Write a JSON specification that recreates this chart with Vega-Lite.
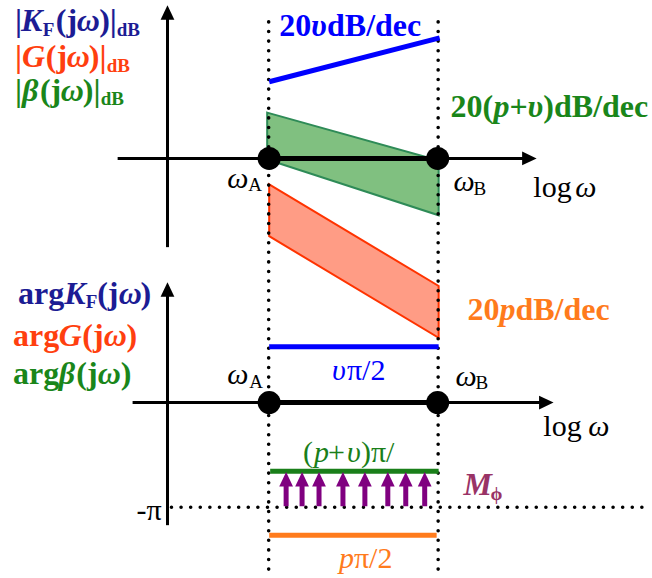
{
  "$schema": "https://vega.github.io/schema/vega-lite/v6.json",
  "width": 652,
  "height": 578,
  "padding": 0,
  "autosize": {"type": "fit", "contains": "padding"},
  "background": "white",
  "config": {"view": {"stroke": null}},
  "datasets": {
    "bands": [
      {"x": 268, "y": 113, "y2": 160, "band": "beta"},
      {"x": 440, "y": 161, "y2": 216, "band": "beta"},
      {"x": 270, "y": 185, "y2": 237, "band": "g"},
      {"x": 440, "y": 287, "y2": 339, "band": "g"}
    ],
    "dotted": [
      {"x": 269.5, "y": 22, "x2": 269.5, "y2": 578},
      {"x": 439.5, "y": 22, "x2": 439.5, "y2": 578},
      {"x": 172, "y": 509, "x2": 652, "y2": 509}
    ],
    "axes": [
      {"x": 168, "y": 248, "x2": 168, "y2": 18},
      {"x": 118, "y": 159, "x2": 526, "y2": 159},
      {"x": 168, "y": 527, "x2": 168, "y2": 296},
      {"x": 133, "y": 404, "x2": 542, "y2": 404}
    ],
    "segments": [
      {"x": 270, "y": 159, "x2": 439, "y2": 159, "c": "black"},
      {"x": 270, "y": 404, "x2": 439, "y2": 404, "c": "black"},
      {"x": 270, "y": 82, "x2": 441, "y2": 38, "c": "blue"},
      {"x": 270, "y": 348, "x2": 440, "y2": 348, "c": "blue"},
      {"x": 271, "y": 473, "x2": 440, "y2": 473, "c": "green"},
      {"x": 270, "y": 537, "x2": 438, "y2": 537, "c": "orange"},
      {"x": 287, "y": 508, "x2": 287, "y2": 486, "c": "purple"},
      {"x": 303, "y": 508, "x2": 303, "y2": 486, "c": "purple"},
      {"x": 320, "y": 508, "x2": 320, "y2": 486, "c": "purple"},
      {"x": 344, "y": 508, "x2": 344, "y2": 486, "c": "purple"},
      {"x": 366, "y": 508, "x2": 366, "y2": 486, "c": "purple"},
      {"x": 389, "y": 508, "x2": 389, "y2": 486, "c": "purple"},
      {"x": 407, "y": 508, "x2": 407, "y2": 486, "c": "purple"},
      {"x": 426, "y": 508, "x2": 426, "y2": 486, "c": "purple"}
    ],
    "heads": [
      {"x": 168, "y": 12.5, "dir": "up", "c": "black"},
      {"x": 168, "y": 290.5, "dir": "up", "c": "black"},
      {"x": 531, "y": 159, "dir": "right", "c": "black"},
      {"x": 548, "y": 404, "dir": "right", "c": "black"},
      {"x": 287, "y": 481, "dir": "up", "c": "purple"},
      {"x": 303, "y": 481, "dir": "up", "c": "purple"},
      {"x": 320, "y": 481, "dir": "up", "c": "purple"},
      {"x": 344, "y": 481, "dir": "up", "c": "purple"},
      {"x": 366, "y": 481, "dir": "up", "c": "purple"},
      {"x": 389, "y": 481, "dir": "up", "c": "purple"},
      {"x": 407, "y": 481, "dir": "up", "c": "purple"},
      {"x": 426, "y": 481, "dir": "up", "c": "purple"}
    ],
    "nodes": [
      {"x": 270, "y": 159, "name": "ωA"},
      {"x": 439, "y": 159, "name": "ωB"},
      {"x": 270, "y": 404, "name": "ωA"},
      {"x": 439, "y": 404, "name": "ωB"}
    ],
    "bold": [
      {"x": 15, "y": 31, "t": "|", "c": "kf"},
      {"x": 56, "y": 31, "t": "(j", "c": "kf"},
      {"x": 99.5, "y": 31, "t": ")|", "c": "kf"},
      {"x": 15, "y": 67, "t": "|", "c": "g"},
      {"x": 46, "y": 67, "t": "(j", "c": "g"},
      {"x": 89, "y": 67, "t": ")|", "c": "g"},
      {"x": 15, "y": 101, "t": "|", "c": "beta"},
      {"x": 40, "y": 101, "t": "(j", "c": "beta"},
      {"x": 83, "y": 101, "t": ")|", "c": "beta"},
      {"x": 18, "y": 305, "t": "arg", "c": "kf"},
      {"x": 97.5, "y": 305, "t": "(j", "c": "kf"},
      {"x": 141, "y": 305, "t": ")", "c": "kf"},
      {"x": 13, "y": 347, "t": "arg", "c": "g"},
      {"x": 82.5, "y": 347, "t": "(j", "c": "g"},
      {"x": 127, "y": 347, "t": ")", "c": "g"},
      {"x": 13, "y": 385, "t": "arg", "c": "beta"},
      {"x": 76.5, "y": 385, "t": "(j", "c": "beta"},
      {"x": 121, "y": 385, "t": ")", "c": "beta"},
      {"x": 280, "y": 36, "t": "20", "c": "blue"},
      {"x": 328, "y": 36, "t": "dB/dec", "c": "blue"},
      {"x": 452, "y": 117, "t": "20(", "c": "beta"},
      {"x": 511, "y": 117, "t": "+", "c": "beta"},
      {"x": 545, "y": 117, "t": ")dB/dec", "c": "beta"},
      {"x": 469, "y": 321, "t": "20", "c": "orange"},
      {"x": 517, "y": 321, "t": "dB/dec", "c": "orange"}
    ],
    "boldItalic": [
      {"x": 21, "y": 31, "t": "K", "c": "kf"},
      {"x": 77, "y": 31, "t": "ω", "c": "kf"},
      {"x": 22, "y": 67, "t": "G", "c": "g"},
      {"x": 67, "y": 67, "t": "ω", "c": "g"},
      {"x": 22, "y": 101, "t": "β", "c": "beta"},
      {"x": 61, "y": 101, "t": "ω", "c": "beta"},
      {"x": 64.5, "y": 305, "t": "K", "c": "kf"},
      {"x": 119, "y": 305, "t": "ω", "c": "kf"},
      {"x": 59, "y": 347, "t": "G", "c": "g"},
      {"x": 104, "y": 347, "t": "ω", "c": "g"},
      {"x": 59, "y": 385, "t": "β", "c": "beta"},
      {"x": 98, "y": 385, "t": "ω", "c": "beta"},
      {"x": 312, "y": 36, "t": "υ", "c": "blue"},
      {"x": 495, "y": 117, "t": "p", "c": "beta"},
      {"x": 529, "y": 117, "t": "υ", "c": "beta"},
      {"x": 501, "y": 321, "t": "p", "c": "orange"},
      {"x": 465, "y": 497, "t": "M", "c": "mphi"}
    ],
    "boldSub": [
      {"x": 43, "y": 36, "t": "F", "c": "kf"},
      {"x": 117, "y": 36, "t": "dB", "c": "kf"},
      {"x": 107, "y": 72, "t": "dB", "c": "g"},
      {"x": 101, "y": 105, "t": "dB", "c": "beta"},
      {"x": 86, "y": 309, "t": "F", "c": "kf"},
      {"x": 492, "y": 502, "t": "ϕ", "c": "mphi"}
    ],
    "italic": [
      {"x": 228, "y": 189, "t": "ω", "c": "black"},
      {"x": 455, "y": 192, "t": "ω", "c": "black"},
      {"x": 577, "y": 198, "t": "ω", "c": "black"},
      {"x": 228, "y": 385, "t": "ω", "c": "black"},
      {"x": 457, "y": 387, "t": "ω", "c": "black"},
      {"x": 590, "y": 438, "t": "ω", "c": "black"},
      {"x": 333, "y": 381, "t": "υ", "c": "blue"},
      {"x": 315, "y": 464, "t": "p", "c": "green"},
      {"x": 348, "y": 464, "t": "υ", "c": "green"},
      {"x": 340, "y": 570, "t": "p", "c": "orange"}
    ],
    "regular": [
      {"x": 535, "y": 198, "t": "log", "c": "black"},
      {"x": 545, "y": 438, "t": "log", "c": "black"},
      {"x": 348, "y": 381, "t": "π/2", "c": "blue"},
      {"x": 304, "y": 464, "t": "(", "c": "green"},
      {"x": 329, "y": 464, "t": "+", "c": "green"},
      {"x": 362, "y": 464, "t": ")π/", "c": "green"},
      {"x": 355, "y": 570, "t": "π/2", "c": "orange"},
      {"x": 137, "y": 522, "t": "-π", "c": "black"}
    ],
    "sub": [
      {"x": 249, "y": 192, "t": "A", "c": "black"},
      {"x": 475, "y": 196, "t": "B", "c": "black"},
      {"x": 250, "y": 389, "t": "A", "c": "black"},
      {"x": 477, "y": 390, "t": "B", "c": "black"}
    ]
  },
  "encoding": {
    "x": {"field": "x", "type": "quantitative", "scale": {"domain": [0, 652], "nice": false, "zero": false}, "axis": null},
    "y": {"field": "y", "type": "quantitative", "scale": {"domain": [0, 578], "nice": false, "zero": false, "reverse": true}, "axis": null}
  },
  "layer": [
    {
      "data": {"name": "bands"},
      "mark": {"type": "area", "strokeWidth": 2, "opacity": 1, "fillOpacity": 1},
      "encoding": {
        "y2": {"field": "y2"},
        "fill": {"field": "band", "type": "nominal", "scale": {"domain": ["beta", "g"], "range": ["#80c080", "#ff9c85"]}, "legend": null},
        "stroke": {"field": "band", "type": "nominal", "scale": {"domain": ["beta", "g"], "range": ["#2e8b57", "#ff3300"]}, "legend": null}
      }
    },
    {
      "data": {"name": "dotted"},
      "mark": {"type": "rule", "strokeDash": [0, 9.6], "strokeCap": "round", "strokeWidth": 3.6, "color": "black"},
      "encoding": {"x2": {"field": "x2"}, "y2": {"field": "y2"}}
    },
    {
      "data": {"name": "axes"},
      "mark": {"type": "rule", "strokeWidth": 3, "color": "black"},
      "encoding": {"x2": {"field": "x2"}, "y2": {"field": "y2"}}
    },
    {
      "data": {"name": "segments"},
      "mark": {"type": "rule", "strokeWidth": 5},
      "encoding": {
        "x2": {"field": "x2"},
        "y2": {"field": "y2"},
        "color": {"field": "c", "type": "nominal", "scale": {"domain": ["kf", "blue", "g", "beta", "green", "orange", "purple", "mphi", "black"], "range": ["#1c1c94", "#0000ff", "#ff3f0f", "#1a861a", "#1a7f1a", "#ff7b1c", "#800080", "#993366", "#000000"]}, "legend": null}
      }
    },
    {
      "data": {"name": "heads"},
      "mark": {"type": "point", "filled": true, "opacity": 1, "size": 210},
      "encoding": {
        "shape": {"field": "dir", "type": "nominal", "scale": {"domain": ["up", "right"], "range": ["M0,-1L0.95,1L-0.95,1Z", "M1,0L-1,0.95L-1,-0.95Z"]}, "legend": null},
        "color": {"field": "c", "type": "nominal", "scale": {"domain": ["kf", "blue", "g", "beta", "green", "orange", "purple", "mphi", "black"], "range": ["#1c1c94", "#0000ff", "#ff3f0f", "#1a861a", "#1a7f1a", "#ff7b1c", "#800080", "#993366", "#000000"]}, "legend": null}
      }
    },
    {
      "data": {"name": "nodes"},
      "mark": {"type": "point", "shape": "circle", "filled": true, "opacity": 1, "size": 531, "color": "black"}
    },
    {
      "data": {"name": "bold"},
      "mark": {"type": "text", "align": "left", "baseline": "alphabetic", "font": "Liberation Serif", "fontSize": 32, "fontWeight": "bold"},
      "encoding": {
        "text": {"field": "t"},
        "color": {"field": "c", "type": "nominal", "scale": {"domain": ["kf", "blue", "g", "beta", "green", "orange", "purple", "mphi", "black"], "range": ["#1c1c94", "#0000ff", "#ff3f0f", "#1a861a", "#1a7f1a", "#ff7b1c", "#800080", "#993366", "#000000"]}, "legend": null}
      }
    },
    {
      "data": {"name": "boldItalic"},
      "mark": {"type": "text", "align": "left", "baseline": "alphabetic", "font": "Liberation Serif", "fontSize": 32, "fontWeight": "bold", "fontStyle": "italic"},
      "encoding": {
        "text": {"field": "t"},
        "color": {"field": "c", "type": "nominal", "scale": {"domain": ["kf", "blue", "g", "beta", "green", "orange", "purple", "mphi", "black"], "range": ["#1c1c94", "#0000ff", "#ff3f0f", "#1a861a", "#1a7f1a", "#ff7b1c", "#800080", "#993366", "#000000"]}, "legend": null}
      }
    },
    {
      "data": {"name": "boldSub"},
      "mark": {"type": "text", "align": "left", "baseline": "alphabetic", "font": "Liberation Serif", "fontSize": 19, "fontWeight": "bold"},
      "encoding": {
        "text": {"field": "t"},
        "color": {"field": "c", "type": "nominal", "scale": {"domain": ["kf", "blue", "g", "beta", "green", "orange", "purple", "mphi", "black"], "range": ["#1c1c94", "#0000ff", "#ff3f0f", "#1a861a", "#1a7f1a", "#ff7b1c", "#800080", "#993366", "#000000"]}, "legend": null}
      }
    },
    {
      "data": {"name": "italic"},
      "mark": {"type": "text", "align": "left", "baseline": "alphabetic", "font": "Liberation Serif", "fontSize": 30, "fontStyle": "italic"},
      "encoding": {
        "text": {"field": "t"},
        "color": {"field": "c", "type": "nominal", "scale": {"domain": ["kf", "blue", "g", "beta", "green", "orange", "purple", "mphi", "black"], "range": ["#1c1c94", "#0000ff", "#ff3f0f", "#1a861a", "#1a7f1a", "#ff7b1c", "#800080", "#993366", "#000000"]}, "legend": null}
      }
    },
    {
      "data": {"name": "regular"},
      "mark": {"type": "text", "align": "left", "baseline": "alphabetic", "font": "Liberation Serif", "fontSize": 30},
      "encoding": {
        "text": {"field": "t"},
        "color": {"field": "c", "type": "nominal", "scale": {"domain": ["kf", "blue", "g", "beta", "green", "orange", "purple", "mphi", "black"], "range": ["#1c1c94", "#0000ff", "#ff3f0f", "#1a861a", "#1a7f1a", "#ff7b1c", "#800080", "#993366", "#000000"]}, "legend": null}
      }
    },
    {
      "data": {"name": "sub"},
      "mark": {"type": "text", "align": "left", "baseline": "alphabetic", "font": "Liberation Serif", "fontSize": 19},
      "encoding": {
        "text": {"field": "t"},
        "color": {"field": "c", "type": "nominal", "scale": {"domain": ["kf", "blue", "g", "beta", "green", "orange", "purple", "mphi", "black"], "range": ["#1c1c94", "#0000ff", "#ff3f0f", "#1a861a", "#1a7f1a", "#ff7b1c", "#800080", "#993366", "#000000"]}, "legend": null}
      }
    }
  ]
}
